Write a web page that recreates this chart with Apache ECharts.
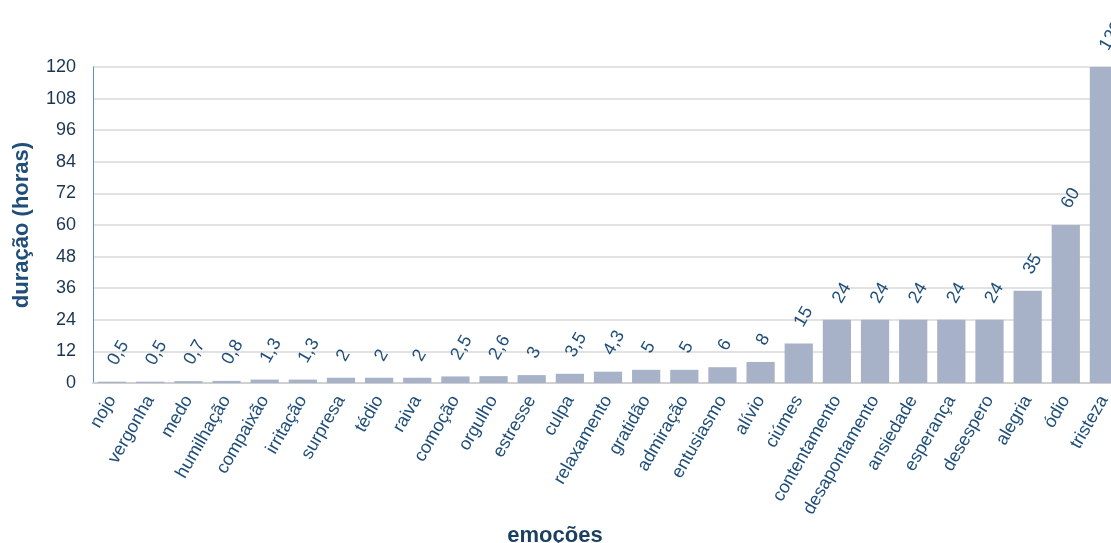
<!DOCTYPE html>
<html>
<head>
<meta charset="utf-8">
<script src="https://cdn.jsdelivr.net/npm/echarts@6/dist/echarts.min.js"></script>
<style>
  html, body { margin: 0; padding: 0; background: #fff; }
  #chart { width: 1111px; height: 543px; }
</style>
</head>
<body>
<div id="chart"></div>
<script>
const emocoes = ['nojo', 'vergonha', 'medo', 'humilhação', 'compaixão', 'irritação', 'surpresa', 'tédio', 'raiva',
  'comoção', 'orgulho', 'estresse', 'culpa', 'relaxamento', 'gratidão', 'admiração', 'entusiasmo', 'alívio',
  'ciúmes', 'contentamento', 'desapontamento', 'ansiedade', 'esperança', 'desespero', 'alegria', 'ódio', 'tristeza']
const duracao = [0.5, 0.5, 0.7, 0.8, 1.3, 1.3, 2, 2, 2, 2.5, 2.6, 3, 3.5, 4.3, 5, 5, 6, 8, 15, 24, 24, 24, 24, 24, 35, 60, 120]

const textBlue = '#1f4e79'
const fmt = (v) => String(v).replace('.', ',')

const chart = echarts.init(document.getElementById('chart'))

const option = {
  animation: false,
  textStyle: { fontFamily: 'Liberation Sans, Arial, sans-serif' },
  grid: { left: 93, right: -12, top: 67, bottom: 160, outerBoundsMode: 'none', containLabel: false },
  xAxis: {
    type: 'category',
    data: emocoes,
    name: 'emoções',
    nameLocation: 'middle',
    nameGap: 129,
    nameTextStyle: { fontSize: 22, fontWeight: 'bold', color: '#1b3f5e', padding: [0, 106, 0, 0] },
    axisLine: { lineStyle: { color: '#d0d0d0', width: 2 } },
    axisTick: { show: false },
    axisLabel: { rotate: 60, fontSize: 18, color: textBlue, margin: 14, interval: 0 },
  },
  yAxis: {
    type: 'value',
    min: 0,
    max: 120,
    interval: 12,
    name: 'duração (horas)',
    nameLocation: 'middle',
    nameGap: 60,
    nameTextStyle: { fontSize: 22, fontWeight: 'bold', color: textBlue },
    axisLine: { show: true, lineStyle: { color: '#5b8fd0', width: 1 } },
    axisTick: { show: false },
    axisLabel: { fontSize: 18, color: '#1b3550', margin: 17 },
    splitLine: { lineStyle: { color: '#d9d9d9', width: 1.5 } },
  },
  series: [
    {
      type: 'bar',
      data: duracao,
      barCategoryGap: '26%',
      itemStyle: { color: '#a7b2c9' },
      label: {
        show: true,
        position: 'top',
        distance: 18,
        rotate: 60,
        align: 'left',
        verticalAlign: 'middle',
        fontSize: 18,
        color: textBlue,
        formatter: (p) => fmt(p.value),
      },
    },
  ],
}

chart.setOption(option)
</script>
</body>
</html>
